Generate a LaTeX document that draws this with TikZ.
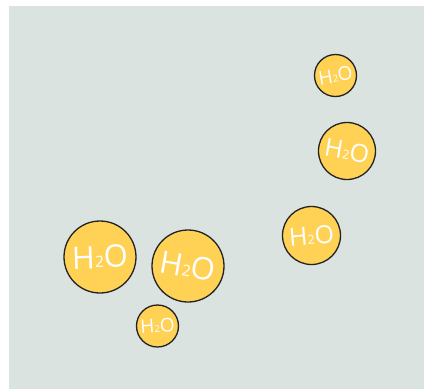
\documentclass[tikz,border=0pt]{standalone}
\usepackage{fontspec}
\setmainfont{Open Sans}
\definecolor{bg}{HTML}{DAE3E0}
\definecolor{drop}{HTML}{FFD155}
\definecolor{rim}{HTML}{222222}
\newcommand{\wat}{H\raisebox{0.02em}{\scalebox{0.5}{2}}O}
\tikzset{
  mol/.style={circle, draw=rim, line width=1.3pt, fill=drop, inner sep=0pt, text=white},
  big/.style={mol, minimum size=72pt, font=\fontsize{31}{31}\selectfont},
  mid/.style={mol, minimum size=57pt, font=\fontsize{25}{25}\selectfont},
  small/.style={mol, minimum size=42pt, font=\fontsize{19}{19}\selectfont}
}
\begin{document}
\begin{tikzpicture}[x=1pt,y=-1pt]
\useasboundingbox (0,0) rectangle (424,389);
\fill[bg] (8.5,6) rectangle (424,389);
\node[big] (a) at (100,257) {\rotatebox{2}{\wat}};
\node[big] (b) at (188,266) {\rotatebox{-10}{\wat}};
\node[small] (c) at (157.5,326) {\rotatebox{4}{\wat}};
\node[small] (d) at (335.5,75.5) {\rotatebox{10}{\wat}};
\node[mid] (e) at (347,151) {\rotatebox{-10}{\wat}};
\node[mid, minimum size=58pt] (f) at (311.5,235.5) {\rotatebox{5}{\wat}};
\end{tikzpicture}
\end{document}
